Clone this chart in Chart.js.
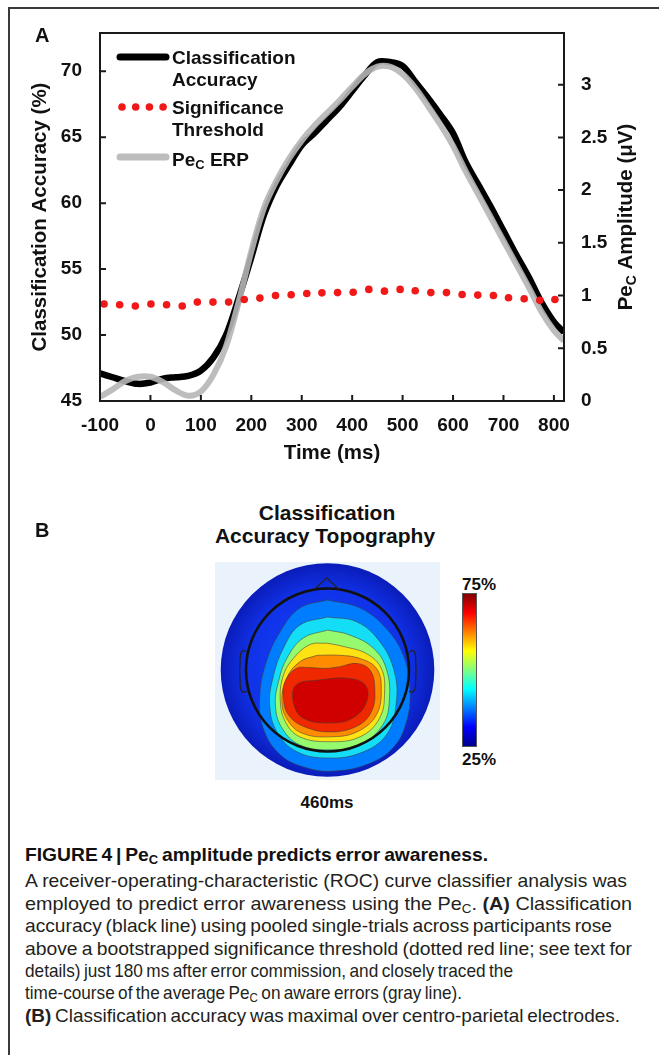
<!DOCTYPE html>
<html>
<head>
<meta charset="utf-8">
<script src="https://cdn.jsdelivr.net/npm/chart.js@4.4.1/dist/chart.umd.min.js"></script>
<style>
  body { margin: 0; background: #fff; width: 659px; height: 1055px; position: relative; overflow: hidden;
         font-family: "Liberation Sans", Arial, sans-serif; }
  .frame { position: absolute; left: 8px; top: 7px; width: 700px; height: 1100px;
           border-top: 2px solid #3a3a3a; border-left: 2px solid #3a3a3a; }
  .t { position: absolute; white-space: nowrap; line-height: 1; color: #111; font-weight: bold; }
  .c { transform: translateX(-50%); }
  .cap { position: absolute; left: 25px; white-space: nowrap; line-height: 1; font-size: 18.5px; color: #231f20;
         transform-origin: 0 0; }
  .cap sub { font-size: 12.5px; vertical-align: -3px; line-height: 0; }
  #chartA { position: absolute; left: 0; top: 0; }
  #chartB { position: absolute; left: 215px; top: 562px; }
  .cbar { position: absolute; left: 462px; top: 593px; width: 15px; height: 154px; box-sizing: border-box;
          border: 1px solid #555;
          background: linear-gradient(to top, #00008f 0%, #0000ff 12.5%, #00ffff 37.5%, #ffff00 62.5%, #ff0000 87.5%, #800000 100%); }
</style>
</head>
<body>
<div class="frame"></div>
<canvas id="chartA" width="659" height="480"></canvas>
<div class="t" style="left:35px; top:25px; font-size:20px;">A</div>

<div class="t" style="left:35px; top:520px; font-size:20px;">B</div>
<div class="t c" style="left:327px; top:502px; font-size:21px;">Classification</div>
<div class="t c" style="left:325px; top:525px; font-size:21px;">Accuracy Topography</div>
<canvas id="chartB" width="225" height="218"></canvas>
<div class="cbar"></div>
<div class="t c" style="left:479px; top:576px; font-size:17px;">75%</div>
<div class="t c" style="left:479px; top:751px; font-size:17px;">25%</div>
<div class="t c" style="left:327px; top:794px; font-size:17px;">460ms</div>

<div class="cap" data-w="463" style="top:846.3px; color:#111;"><b>FIGURE 4 | Pe<sub>C</sub> amplitude predicts error awareness.</b></div>
<div class="cap" data-w="602" style="top:872.3px;">A receiver-operating-characteristic (ROC) curve classifier analysis was</div>
<div class="cap" data-w="607" style="top:894.8px;">employed to predict error awareness using the Pe<sub>C</sub>. <b>(A)</b> Classification</div>
<div class="cap" data-w="587" style="top:917.3px;">accuracy (black line) using pooled single-trials across participants rose</div>
<div class="cap" data-w="607" style="top:939.8px;">above a bootstrapped significance threshold (dotted red line; see text for</div>
<div class="cap" data-w="488" style="top:962.3px;">details) just 180&#8201;ms after error commission, and closely traced the</div>
<div class="cap" data-w="437" style="top:984.3px;">time-course of the average Pe<sub>C</sub> on aware errors (gray line).</div>
<div class="cap" data-w="595" style="top:1006.8px;"><b>(B)</b> Classification accuracy was maximal over centro-parietal electrodes.</div>

<script>
// panel A: time course (ms)
const timeMs = [-100, -75, -50, -25, 0, 25, 50, 75, 100, 125, 150, 175, 200, 225, 250, 275, 300, 325, 350,
  375, 400, 425, 450, 475, 500, 525, 550, 575, 600, 625, 650, 675, 700, 725, 750, 775, 800, 820];
// classification accuracy (%)
const accuracy = [47.1, 46.8, 46.5, 46.3, 46.4, 46.7, 46.8, 46.9, 47.3, 48.3, 50.0, 52.8, 55.9, 59.1, 61.3,
  62.9, 64.4, 65.3, 66.3, 67.3, 68.5, 69.7, 70.7, 70.7, 70.4, 69.2, 68.0, 66.7, 65.3, 63.1, 61.4, 59.7, 57.9,
  56.1, 54.4, 52.5, 51.0, 50.2];
// PeC ERP amplitude (uV)
const peErp = [0.04, 0.11, 0.19, 0.23, 0.23, 0.18, 0.10, 0.05, 0.09, 0.25, 0.52, 0.94, 1.42, 1.83, 2.09,
  2.30, 2.47, 2.61, 2.73, 2.85, 2.98, 3.10, 3.17, 3.17, 3.10, 2.97, 2.80, 2.62, 2.42, 2.18, 1.96, 1.74, 1.52,
  1.30, 1.08, 0.85, 0.67, 0.57];
// bootstrapped significance threshold
const threshTimes = [-92, -61, -30, 1, 32, 63, 93, 124, 155, 186, 217, 248, 279, 310, 340, 371, 402, 433,
  464, 495, 525, 556, 587, 618, 649, 680, 710, 741, 772, 802];
const threshold = [52.35, 52.3, 52.2, 52.35, 52.3, 52.2, 52.5, 52.5, 52.5, 52.7, 52.8, 53.0, 53.05, 53.15,
  53.2, 53.22, 53.25, 53.46, 53.33, 53.46, 53.36, 53.22, 53.22, 53.08, 53.03, 53.0, 52.83, 52.75, 52.63, 52.7];

// panel B: topography, scalp coords (head radius = 100)
const discRadius = 131;
const headRadius = 100;
const band1 = [[0, 86], [-34, 76], [-58, 47], [-75, 10], [-83, -31], [-79, -71], [-58, -104], [-26, -120],
  [7, -124], [48, -116], [80, -96], [97, -63], [101, -22], [93, 18], [72, 51], [40, 76]];
const band2 = [[0, 65], [-34, 55], [-54, 27], [-67, -10], [-71, -43], [-62, -76], [-38, -100], [-1, -108],
  [40, -102], [72, -80], [84, -43], [82, -2], [64, 35], [36, 59]];
const band3 = [[0, 49], [-30, 39], [-50, 14], [-60, -14], [-64, -43], [-56, -71], [-34, -92], [3, -98],
  [40, -92], [68, -67], [76, -35], [72, 2], [56, 27], [27, 43]];
const band4 = [[-1, 33], [-22, 31], [-42, 14], [-54, -6], [-58, -35], [-52, -63], [-34, -82], [3, -88],
  [40, -82], [64, -59], [70, -27], [66, 2], [48, 20], [19, 29]];
const band5 = [[-13, 18], [-34, 10], [-50, -10], [-56, -39], [-48, -63], [-30, -78], [3, -82], [36, -76],
  [60, -55], [66, -22], [60, 2], [40, 14], [15, 18]];
const band6 = [[-22, 3], [-38, 2], [-52, -14], [-54, -35], [-48, -55], [-30, -69], [3, -76], [36, -69],
  [54, -51], [58, -22], [52, 0], [36, 8], [15, 4], [-1, 2]];
const band7 = [[-9, -12], [-38, -18], [-42, -39], [-30, -59], [3, -65], [31, -59], [48, -39], [46, -18],
  [23, -10]];
const nose = [[-16, 99], [-1, 113], [14, 99]];
const earLeft = [[-99, 22], [-104, 24], [-107, 17], [-107, -20], [-104, -27], [-99, -26]];
const earRight = [[100, 22], [105, 24], [108, 17], [108, -20], [105, -27], [100, -26]];

const FONT = '"Liberation Sans", Arial, sans-serif';
const INK = '#111';

const axesFrame = {
  id: 'axesFrame',
  afterDatasetsDraw(chart) {
    const {ctx, chartArea: a, scales} = chart;
    ctx.save();
    ctx.strokeStyle = '#1a1a1a';
    ctx.lineWidth = 2;
    ctx.strokeRect(a.left, a.top, a.right - a.left, a.bottom - a.top);
    ctx.beginPath();
    scales.x.ticks.forEach(t => {
      const p = scales.x.getPixelForValue(t.value);
      ctx.moveTo(p, a.bottom); ctx.lineTo(p, a.bottom - 6);
    });
    scales.y.ticks.forEach(t => {
      const p = scales.y.getPixelForValue(t.value);
      ctx.moveTo(a.left, p); ctx.lineTo(a.left + 6, p);
    });
    scales.y2.ticks.forEach(t => {
      const p = scales.y2.getPixelForValue(t.value);
      ctx.moveTo(a.right, p); ctx.lineTo(a.right - 6, p);
    });
    ctx.stroke();
    ctx.restore();
  }
};

// legend drawn inside the plot, with the multi-line labels and subscript
const insideLegend = {
  id: 'insideLegend',
  afterDatasetsDraw(chart) {
    const {ctx, chartArea: a} = chart;
    const ds = chart.data.datasets;
    const x0 = a.left + 20, x1 = a.left + 66, tx = a.left + 72;
    ctx.save();
    ctx.lineCap = 'round';
    ctx.strokeStyle = ds[2].borderColor;
    ctx.lineWidth = 7;
    ctx.beginPath(); ctx.moveTo(x0, a.top + 24); ctx.lineTo(x1, a.top + 24); ctx.stroke();
    ctx.strokeStyle = ds[1].borderColor;
    ctx.beginPath(); ctx.moveTo(x0, a.top + 124); ctx.lineTo(x1, a.top + 124); ctx.stroke();
    ctx.fillStyle = ds[0].pointBackgroundColor;
    [0, 1, 2, 3].forEach(i => {
      ctx.beginPath(); ctx.arc(x0 + 2 + i * 13.7, a.top + 74, 3.8, 0, Math.PI * 2); ctx.fill();
    });
    ctx.fillStyle = INK;
    ctx.textBaseline = 'alphabetic';
    ctx.font = 'bold 19px ' + FONT;
    ctx.fillText('Classification', tx, a.top + 30.5);
    ctx.fillText('Accuracy', tx, a.top + 52.5);
    ctx.fillText('Significance', tx, a.top + 80.5);
    ctx.fillText('Threshold', tx, a.top + 102.5);
    ctx.fillText('Pe', tx, a.top + 132.5);
    const w = ctx.measureText('Pe').width;
    ctx.font = 'bold 13px ' + FONT;
    ctx.fillText('C', tx + w, a.top + 136);
    const wc = ctx.measureText('C').width;
    ctx.font = 'bold 19px ' + FONT;
    ctx.fillText(' ERP', tx + w + wc, a.top + 132.5);
    ctx.restore();
  }
};

// right axis title with subscript
const rightTitle = {
  id: 'rightTitle',
  afterDraw(chart) {
    const {ctx, chartArea: a} = chart;
    const parts = [['Pe', 20.5, 0], ['C', 14, 4], [' Amplitude (\u03BCV)', 20.5, 0]];
    ctx.save();
    let total = 0;
    parts.forEach(p => { ctx.font = 'bold ' + p[1] + 'px ' + FONT; total += ctx.measureText(p[0]).width; });
    ctx.translate(a.right + 68, (a.top + a.bottom) / 2 + total / 2);
    ctx.rotate(-Math.PI / 2);
    ctx.fillStyle = INK;
    ctx.textBaseline = 'alphabetic';
    let x = 0;
    parts.forEach(p => {
      ctx.font = 'bold ' + p[1] + 'px ' + FONT;
      ctx.fillText(p[0], x, p[2]);
      x += ctx.measureText(p[0]).width;
    });
    ctx.restore();
  }
};

const tickFont = {family: FONT, size: 19, weight: 'bold'};
const titleFont = {family: FONT, size: 20.5, weight: 'bold'};

new Chart(document.getElementById('chartA'), {
  type: 'line',
  data: {
    datasets: [
      {
        label: 'Significance Threshold',
        data: threshTimes.map((t, i) => ({x: t, y: threshold[i]})),
        yAxisID: 'y',
        showLine: false,
        pointRadius: 3.8,
        pointBackgroundColor: '#f01818',
        pointBorderWidth: 0,
        order: 0
      },
      {
        label: 'PeC ERP',
        data: timeMs.map((t, i) => ({x: t, y: peErp[i]})),
        yAxisID: 'y2',
        borderColor: 'rgba(182,182,182,0.9)',
        borderWidth: 6,
        pointRadius: 0,
        tension: 0.35,
        order: 1
      },
      {
        label: 'Classification Accuracy',
        data: timeMs.map((t, i) => ({x: t, y: accuracy[i]})),
        yAxisID: 'y',
        borderColor: '#000',
        borderWidth: 6.5,
        pointRadius: 0,
        tension: 0.35,
        order: 2
      }
    ]
  },
  options: {
    responsive: false,
    animation: false,
    events: [],
    layout: {padding: {left: 0, right: 0, top: 33, bottom: 0}},
    plugins: {legend: {display: false}, tooltip: {enabled: false}},
    scales: {
      x: {
        type: 'linear', min: -100, max: 820,
        afterFit(s) { s.height = 79; },
        grid: {display: false, drawTicks: false},
        border: {display: false},
        ticks: {stepSize: 100, includeBounds: false, padding: 13, color: INK, font: tickFont, maxRotation: 0},
        title: {display: true, text: 'Time (ms)', color: INK, font: titleFont, padding: {top: 0, bottom: 14}}
      },
      y: {
        position: 'left', min: 45, max: 72.9,
        afterFit(s) { s.width = 100; },
        grid: {display: false, drawTicks: false},
        border: {display: false},
        ticks: {stepSize: 5, includeBounds: false, padding: 18, color: INK, font: tickFont},
        title: {display: true, text: 'Classification Accuracy (%)', color: INK, font: titleFont,
                padding: {top: 28, bottom: 0}}
      },
      y2: {
        position: 'right', min: 0, max: 3.49,
        afterFit(s) { s.width = 95; },
        grid: {display: false, drawTicks: false},
        border: {display: false},
        ticks: {stepSize: 0.5, includeBounds: false, padding: 17, color: INK, font: tickFont,
                callback: v => String(v)}
      }
    }
  },
  plugins: [axesFrame, insideLegend, rightTitle]
});

// panel B
const bands = [band1, band2, band3, band4, band5, band6, band7];
const bandColors = ['rgb(0,125,255)', 'rgb(20,222,245)', 'rgb(150,250,110)', 'rgb(255,226,20)',
  'rgb(255,140,0)', 'rgb(240,40,0)', 'rgb(208,0,0)'];
const closed = arr => arr.concat([arr[0]]).map(([x, y]) => ({x, y}));
const open = arr => arr.map(([x, y]) => ({x, y}));
const unitPx = (chart, r) => {
  const s = chart.scales.x;
  const d = s ? s.getPixelForValue(r) - s.getPixelForValue(0) : NaN;
  return isFinite(d) ? d : 0;
};

const paperBg = {
  id: 'paperBg',
  beforeDraw(chart) {
    const {ctx, chartArea: a} = chart;
    ctx.save();
    ctx.fillStyle = 'rgb(234,242,251)';
    ctx.fillRect(a.left, a.top, a.right - a.left, a.bottom - a.top);
    ctx.restore();
  }
};

const discFill = c => {
  const ch = c.chart;
  const r = unitPx(ch, discRadius);
  if (!r) return 'rgb(16,50,232)';
  const cx = ch.scales.x.getPixelForValue(0), cy = ch.scales.y.getPixelForValue(0);
  const g = ch.ctx.createRadialGradient(cx, cy, 0, cx, cy, r);
  g.addColorStop(0, 'rgb(20,70,250)');
  g.addColorStop(0.75, 'rgb(16,50,232)');
  g.addColorStop(1, 'rgb(10,28,185)');
  return g;
};

const outline = {showLine: true, fill: false, pointRadius: 0, borderColor: '#222', borderWidth: 1.2, tension: 0.3};

new Chart(document.getElementById('chartB'), {
  type: 'line',
  data: {
    datasets: [
      {
        label: 'disc', data: [{x: 0, y: 0}], showLine: false, order: 30,
        pointRadius: c => unitPx(c.chart, discRadius),
        pointBorderWidth: 0,
        pointBackgroundColor: discFill
      },
      ...bands.map((b, i) => ({
        label: 'band' + (i + 1), data: closed(b), showLine: true, fill: 'shape',
        backgroundColor: bandColors[i], borderColor: 'rgba(60,60,60,0.55)', borderWidth: 1,
        pointRadius: 0, tension: 0.4, order: 20 - i
      })),
      {
        label: 'head', data: [{x: 0, y: 0}], showLine: false, order: 4,
        pointRadius: c => unitPx(c.chart, headRadius),
        pointBackgroundColor: 'rgba(0,0,0,0)', pointBorderColor: '#111', pointBorderWidth: 2.6
      },
      {label: 'nose', data: open(nose), order: 3, ...outline, tension: 0},
      {label: 'earL', data: open(earLeft), order: 2, ...outline},
      {label: 'earR', data: open(earRight), order: 1, ...outline}
    ]
  },
  options: {
    responsive: false,
    animation: false,
    events: [],
    layout: {padding: 0},
    plugins: {legend: {display: false}, tooltip: {enabled: false}},
    scales: {
      x: {type: 'linear', min: -138, max: 138, display: false},
      y: {type: 'linear', min: -135, max: 132.5, display: false}
    }
  },
  plugins: [paperBg]
});

// caption: squeeze each line to its width (condensed face in the original),
// letting word spacing take a small part of it
const caps = [...document.querySelectorAll('.cap')];
const natural = caps.map(el => el.getBoundingClientRect().width);
const base = parseFloat(caps[1].dataset.w) / natural[1];
caps.forEach((el, i) => {
  const target = parseFloat(el.dataset.w);
  const gaps = (el.textContent.match(/ /g) || []).length || 1;
  const ws = Math.max(-1.5, Math.min(0, (target / base - natural[i]) / gaps));
  el.style.wordSpacing = ws + 'px';
  const s = target / (natural[i] + ws * gaps);
  el.style.transform = 'scaleX(' + s + ')';
});
</script>
</body>
</html>
